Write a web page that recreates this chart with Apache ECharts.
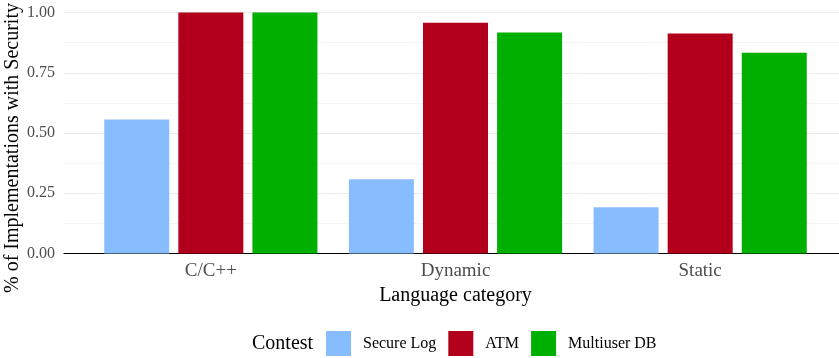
<!DOCTYPE html>
<html>
<head>
<meta charset="utf-8">
<script src="https://cdn.jsdelivr.net/npm/echarts@6/dist/echarts.min.js"></script>
<style>
  html, body { margin: 0; padding: 0; background: #fff; }
  #chart { width: 839px; height: 358px; }
</style>
</head>
<body>
<div id="chart"></div>
<script>
// Share of implementations that attempted security, by language category
const categories = ['C/C++', 'Dynamic', 'Static'];
const seriesNames = ['Secure Log', 'ATM', 'Multiuser DB'];
const secureLog = [0.556, 0.308, 0.192];
const atm = [1.0, 0.957, 0.913];
const multiuserDb = [1.0, 0.917, 0.833];
const yTicks = [0, 0.25, 0.5, 0.75, 1.0];

const colors = ['#87BCFF', '#B2001C', '#00B000'];
const serif = '"Liberation Serif", "DejaVu Serif", serif';

const chart = echarts.init(document.getElementById('chart'), null, { renderer: 'canvas' });

const values = [secureLog, atm, multiuserDb];

chart.setOption({
  animation: false,
  backgroundColor: '#ffffff',
  textStyle: { fontFamily: serif },
  title: {
    text: 'Contest',
    left: 252,
    top: 334,
    padding: 0,
    textStyle: { fontFamily: serif, fontSize: 20, fontWeight: 'normal', color: '#000' }
  },
  legend: {
    data: seriesNames,
    left: 326,
    top: 331,
    padding: 0,
    icon: 'rect',
    itemWidth: 25,
    itemHeight: 25,
    itemGap: 12,
    textStyle: { fontFamily: serif, fontSize: 16, color: '#000', padding: [0, 0, 0, 7] }
  },
  graphic: [{
    type: 'text',
    x: 13,
    y: 148,
    rotation: Math.PI / 2,
    style: {
      text: '% of Implementations with Security',
      font: '20px ' + serif,
      fill: '#000',
      align: 'center',
      verticalAlign: 'middle'
    }
  }],
  grid: [
    // panel: gridlines, y axis and baseline
    { left: 64, top: 12.5, width: 783, bottom: 104.5, outerBoundsMode: 'none', containLabel: false },
    // bar area: category bands
    { left: 88.5, top: 12.5, right: 16.5, bottom: 104.5, outerBoundsMode: 'none', containLabel: false }
  ],
  xAxis: [
    {
      gridIndex: 0, type: 'value', min: 0, max: 1,
      axisLine: { show: true, onZero: false, lineStyle: { color: '#000', width: 1.2 } },
      axisTick: { show: false }, axisLabel: { show: false }, splitLine: { show: false }
    },
    {
      gridIndex: 1, type: 'category', data: categories,
      axisLine: { show: false }, axisTick: { show: false },
      axisLabel: { fontFamily: serif, fontSize: 19, color: '#4d4d4d', margin: 8 },
      name: 'Language category', nameLocation: 'middle', nameGap: 28,
      nameTextStyle: { fontFamily: serif, fontSize: 20, color: '#000' }
    }
  ],
  yAxis: [
    {
      gridIndex: 0, type: 'value', min: 0, max: 1, interval: 0.25,
      axisLine: { show: false }, axisTick: { show: false },
      axisLabel: {
        fontFamily: serif, fontSize: 16, color: '#4d4d4d', margin: 9,
        customValues: yTicks,
        formatter: v => v.toFixed(2)
      },
      splitLine: { show: true, lineStyle: { color: '#ebebeb', width: 1.2 } },
      minorTick: { show: false, splitNumber: 2 },
      minorSplitLine: { show: true, lineStyle: { color: '#f3f3f3', width: 1 } }
    },
    { gridIndex: 1, type: 'value', min: 0, max: 1, show: false }
  ],
  series: seriesNames.map((name, i) => ({
    name,
    type: 'bar',
    xAxisIndex: 1,
    yAxisIndex: 1,
    data: values[i],
    barWidth: 65,
    barGap: '14%',
    itemStyle: { color: colors[i] },
    z: 1
  }))
});
</script>
</body>
</html>
